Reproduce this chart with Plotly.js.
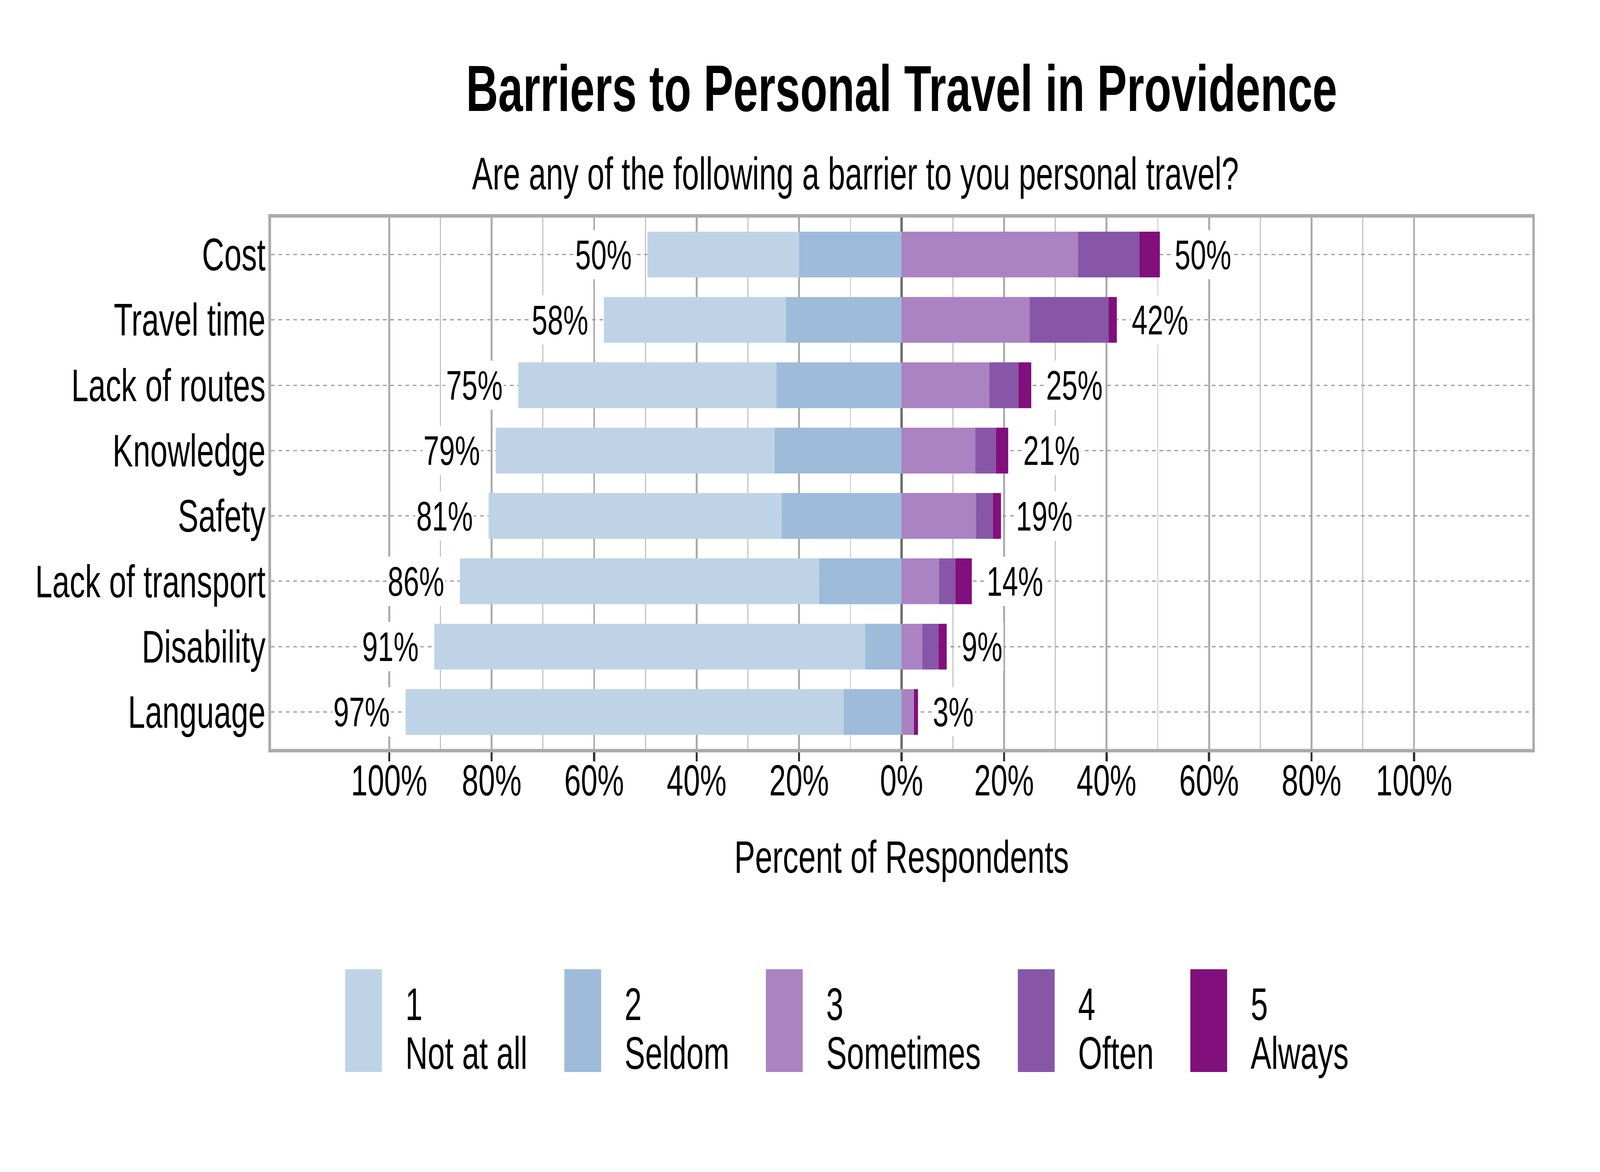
<!DOCTYPE html>
<html>
<head>
<meta charset="utf-8">
<script src="https://cdn.plot.ly/plotly-3.0.1.min.js"></script>
<style>
  html, body { margin: 0; padding: 0; background: #ffffff; overflow: hidden; }
  #chart { width: 6000px; height: 3000px; transform-origin: 0 0; }
</style>
</head>
<body>
<div id="chart"></div>
<script>
// ---------------- DATA ----------------
const categories = ['Cost', 'Travel time', 'Lack of routes', 'Knowledge', 'Safety', 'Lack of transport', 'Disability', 'Language'];
const notAtAll  = [29.6, 35.5, 50.4, 54.4, 57.2, 70.1, 84.1, 85.5];
const seldom    = [20.0, 22.6, 24.4, 24.8, 23.4, 16.1,  7.1, 11.3];
const sometimes = [34.4, 25.0, 17.1, 14.4, 14.5,  7.3,  4.0,  2.4];
const often     = [12.0, 15.4,  5.7,  4.0,  3.3,  3.2,  3.2,  0.0];
const always    = [ 4.0,  1.6,  2.5,  2.4,  1.6,  3.2,  1.6,  0.8];

const levelNums  = ['1', '2', '3', '4', '5'];
const levelNames = ['Not at all', 'Seldom', 'Sometimes', 'Often', 'Always'];
const levelColors = ['#BFD3E6', '#9EBBDA', '#AB82C2', '#8756A7', '#810F7C'];

const xTickVals = [-100, -80, -60, -40, -20, 0, 20, 40, 60, 80, 100];
const xTickText = ['100%', '80%', '60%', '40%', '20%', '0%', '20%', '40%', '60%', '80%', '100%'];
const xMinorVals = [-90, -70, -50, -30, -10, 10, 30, 50, 70, 90];

const titleText = 'Barriers to Personal Travel in Providence';
const subtitleText = 'Are any of the following a barrier to you personal travel?';
const xTitleText = 'Percent of Respondents';

// ---------------- GEOMETRY (design pixels, 6000 x 3000) ----------------
const W = 6000, H = 3000;
const PL = 1015.5, PR = 5746.5, PT = 556.5, PB = 1917.5;
const PW = PR - PL, PH = PB - PT;
const px2x = p => (p - PL) / PW;
const py2y = p => (PB - p) / PH;
const FONT = 'Liberation Sans, Arial, Helvetica, sans-serif';

// fit the 6000x3000 design into whatever viewport the browser really has
const chartDiv = document.getElementById('chart');
const sx = (window.innerWidth || W) / W;
const sy = (window.innerHeight || H) / H;
chartDiv.style.transform = 'scale(' + sx + ',' + sy + ')';

// ---------------- TRACES ----------------
const neg = a => a.map(v => -v);
const traces = [
  {name: levelNames[1], vals: neg(seldom),   color: levelColors[1]},
  {name: levelNames[0], vals: neg(notAtAll), color: levelColors[0]},
  {name: levelNames[2], vals: sometimes,     color: levelColors[2]},
  {name: levelNames[3], vals: often,         color: levelColors[3]},
  {name: levelNames[4], vals: always,        color: levelColors[4]}
].map(t => ({
  type: 'bar',
  orientation: 'h',
  name: t.name,
  x: t.vals,
  y: categories,
  width: 0.7,
  marker: {color: t.color, line: {width: 0}},
  showlegend: false,
  hoverinfo: 'skip'
}));

// ---------------- ANNOTATIONS ----------------
const annotations = [];
categories.forEach((c, i) => {
  const lt = notAtAll[i] + seldom[i];
  const rt = sometimes[i] + often[i] + always[i];
  annotations.push({
    xref: 'x', yref: 'y', x: -lt - 2.85, y: c, xanchor: 'right', yanchor: 'middle',
    text: Math.round(lt) + '%', showarrow: false, bgcolor: '#ffffff', borderpad: 4, borderwidth: 0,
    font: {family: FONT, size: 106, color: '#000000'}
  });
  annotations.push({
    xref: 'x', yref: 'y', x: rt + 2.7, y: c, xanchor: 'left', yanchor: 'middle',
    text: Math.round(rt) + '%', showarrow: false, bgcolor: '#ffffff', borderpad: 4, borderwidth: 0,
    font: {family: FONT, size: 106, color: '#000000'}
  });
});

// subtitle
annotations.push({
  xref: 'paper', yref: 'paper', x: px2x(1768), y: py2y(444), xanchor: 'left', yanchor: 'middle',
  text: subtitleText, showarrow: false, font: {family: FONT, size: 116, color: '#000000'}
});

// custom legend
const keyLeft = [1294, 2116, 2872, 3817, 4464];
const keyW = 138, keyTop = 2482, keyBot = 2745;
const shapes = [];
levelNames.forEach((nm, i) => {
  shapes.push({
    type: 'rect', xref: 'paper', yref: 'paper', layer: 'above',
    x0: px2x(keyLeft[i]), x1: px2x(keyLeft[i] + keyW), y0: py2y(keyBot), y1: py2y(keyTop),
    fillcolor: levelColors[i], line: {width: 0}
  });
  annotations.push({
    xref: 'paper', yref: 'paper', x: px2x(keyLeft[i] + keyW + 86), y: py2y(2571.5),
    xanchor: 'left', yanchor: 'middle', text: levelNums[i], showarrow: false,
    font: {family: FONT, size: 116, color: '#000000'}
  });
  annotations.push({
    xref: 'paper', yref: 'paper', x: px2x(keyLeft[i] + keyW + 86), y: py2y(2697.5),
    xanchor: 'left', yanchor: 'middle', text: nm, showarrow: false,
    font: {family: FONT, size: 116, color: '#000000'}
  });
});

// ---------------- LAYOUT ----------------
const halfRange = PW / 2 / 19.22;
const layout = {
  width: W, height: H,
  paper_bgcolor: '#ffffff', plot_bgcolor: '#ffffff',
  margin: {l: PL, r: W - PR, t: PT, b: H - PB, pad: 0},
  barmode: 'relative',
  bargap: 0.3,
  showlegend: false,
  font: {family: FONT, color: '#000000'},
  title: {
    text: titleText,
    font: {family: FONT, size: 167, color: '#000000', weight: 'bold'},
    xref: 'paper', x: 0.5, xanchor: 'center',
    yref: 'container', y: 1 - 225.5 / H, yanchor: 'middle'
  },
  xaxis: {
    range: [-halfRange, halfRange],
    tickmode: 'array', tickvals: xTickVals, ticktext: xTickText,
    tickfont: {family: FONT, size: 112, color: '#000000'},
    ticks: 'outside', ticklen: 23, tickwidth: 8, tickcolor: '#333333',
    ticklabelstandoff: -47,
    showgrid: true, gridcolor: '#ABABAB', gridwidth: 7,
    minor: {tickmode: 'array', tickvals: xMinorVals, showgrid: true, gridcolor: '#C4C4C4', gridwidth: 4, ticks: ''},
    zeroline: true, zerolinecolor: '#6B6B6B', zerolinewidth: 8,
    showline: true, linecolor: '#ABABAB', linewidth: 9, mirror: true,
    title: {text: xTitleText, font: {family: FONT, size: 117, color: '#000000'}, standoff: 96},
    fixedrange: true
  },
  yaxis: {
    type: 'category',
    categoryorder: 'array', categoryarray: categories,
    range: [7.565, -0.565],
    tickfont: {family: FONT, size: 116, color: '#000000'},
    ticks: '',
    showgrid: true, gridcolor: '#9A9A9A', gridwidth: 3, griddash: '14px,14px',
    zeroline: false,
    showline: true, linecolor: '#ABABAB', linewidth: 9, mirror: true,
    ticklabelstandoff: -12,
    fixedrange: true
  },
  annotations: annotations,
  shapes: shapes
};

Plotly.newPlot('chart', traces, layout, {displayModeBar: false, staticPlot: true});
</script>
</body>
</html>
